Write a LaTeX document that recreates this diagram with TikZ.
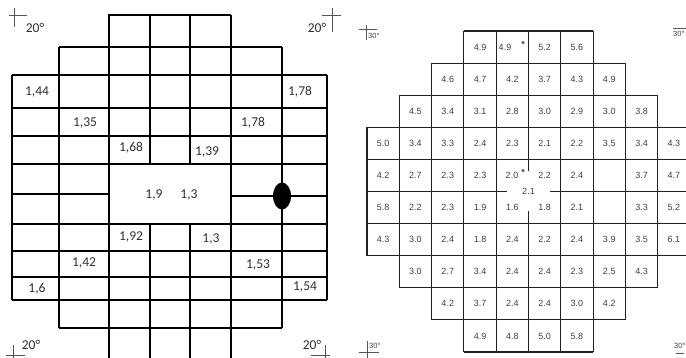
\documentclass[tikz,border=0pt]{standalone}
\usepackage{fontspec}
\setmainfont{Carlito}
\newfontfamily\rfont{Liberation Sans}
\definecolor{ltxt}{HTML}{303030}
\definecolor{rtxt}{HTML}{404040}
\definecolor{rline}{HTML}{222222}
\definecolor{mkc}{HTML}{555555}
\begin{document}
\begin{tikzpicture}[x=1pt,y=-1pt,
  lline/.style={line width=1.3pt, black},
  rl/.style={line width=1.1pt, rline},
  lt/.style={font=\fontsize{13.5}{14}\selectfont, text=ltxt, inner sep=0pt},
  rt/.style={font=\rfont\fontsize{9}{9}\selectfont, text=rtxt, inner sep=0pt},
  rs/.style={font=\rfont\fontsize{7.5}{8}\selectfont, text=rtxt, inner sep=0pt},
  mk/.style={line width=0.6pt, mkc}]
\useasboundingbox (0,0) rectangle (686,358);
\fill[white] (0,0) rectangle (686,358);

% ---------------- left grid ----------------
\draw[lline] (108,15) -- (231,15);
\draw[lline] (59,47) -- (282,47);
\foreach \y in {75,108,136,164,224,251,277,300} \draw[lline] (12,\y) -- (327,\y);
\draw[lline] (12,194) -- (109,194);
\draw[lline] (231,196) -- (327,196);
\draw[lline] (59,328) -- (282,328);
\draw[lline] (12,75) -- (12,300);
\draw[lline] (59,47) -- (59,328);
\draw[lline] (109,15) -- (109,358);
\draw[lline] (150,15) -- (150,164);
\draw[lline] (150,224) -- (150,358);
\draw[lline] (190,15) -- (190,164);
\draw[lline] (190,224) -- (190,358);
\draw[lline] (231,15) -- (231,358);
\draw[lline] (282,47) -- (282,328);
\draw[lline] (327,75) -- (327,300);
\fill[black] (282,196) ellipse [x radius=9, y radius=13.5];

\node[lt] (a1) at (37,92) {1,44};
\node[lt] (a2) at (300,92) {1,78};
\node[lt] (a3) at (85,123) {1,35};
\node[lt] (a4) at (253,123) {1,78};
\node[lt] (a5) at (131,148) {1,68};
\node[lt] (a6) at (207,152) {1,39};
\node[lt] (a7) at (154,195) {1,9};
\node[lt] (a8) at (189,195) {1,3};
\node[lt] (a9) at (131,237) {1,92};
\node[lt] (a10) at (211,239) {1,3};
\node[lt] (a11) at (84,263) {1,42};
\node[lt] (a12) at (258,265) {1,53};
\node[lt] (a13) at (37,289) {1,6};
\node[lt] (a14) at (305,287) {1,54};

% left corner marks
\draw[mk] (14,8) -- (14,27);
\draw[mk] (9,15) -- (27,15);
\node[lt] (c1) at (35,28) {20°};
\draw[mk] (332,8) -- (332,32);
\draw[mk] (322,15) -- (341,15);
\node[lt] (c2) at (317,28) {20°};
\draw[mk] (13,345) -- (13,358);
\draw[mk] (6,355) -- (25,355);
\node[lt] (c3) at (31,345) {20°};
\draw[mk] (325,345) -- (325,358);
\draw[mk] (311,355) -- (330,355);
\node[lt] (c4) at (312,345) {20°};

% ---------------- right grid ----------------
\foreach \k/\a/\b in {0/3/7,1/2/8,2/1/9,3/0/10,4/0/10,6/0/10,7/0/10,8/1/9,9/2/8,10/3/7}
  \draw[rl] ({367+32.3*\a},{31+32.1*\k}) -- ({367+32.3*\b},{31+32.1*\k});
\draw[rl] (367,191.5) -- (507,191.5);
\draw[rl] (550,191.5) -- (690,191.5);
\foreach \i/\a/\b in {0/3/7,1/2/8,2/1/9,3/0/10,4/0/10,6/0/10,7/0/10,8/1/9,9/2/8,10/3/7}
  \draw[rl] ({367+32.3*\i},{31+32.1*\a}) -- ({367+32.3*\i},{31+32.1*\b});
\draw[rl] (528.5,31) -- (528.5,171);
\draw[rl] (528.5,211) -- (528.5,352);

\foreach \v [count=\c from 3] in {4.9,{},5.2,5.6}
  \node[rt] (r0c\c) at ({367+32.3*(\c+0.5)},{31+32.1*0.5}) {\v};
\foreach \v [count=\c from 2] in {4.6,4.7,4.2,3.7,4.3,4.9}
  \node[rt] (r1c\c) at ({367+32.3*(\c+0.5)},{31+32.1*1.5}) {\v};
\foreach \v [count=\c from 1] in {4.5,3.4,3.1,2.8,3.0,2.9,3.0,3.8}
  \node[rt] (r2c\c) at ({367+32.3*(\c+0.5)},{31+32.1*2.5}) {\v};
\foreach \v [count=\c from 0] in {5.0,3.4,3.3,2.4,2.3,2.1,2.2,3.5,3.4,4.3}
  \node[rt] (r3c\c) at ({367+32.3*(\c+0.5)},{31+32.1*3.5}) {\v};
\foreach \v [count=\c from 0] in {4.2,2.7,2.3,2.3,{},2.2,2.4,{},3.7,4.7}
  \node[rt] (r4c\c) at ({367+32.3*(\c+0.5)},{31+32.1*4.5}) {\v};
\foreach \v [count=\c from 0] in {5.8,2.2,2.3,1.9,1.6,1.8,2.1,{},3.3,5.2}
  \node[rt] (r5c\c) at ({367+32.3*(\c+0.5)},{31+32.1*5.5}) {\v};
\foreach \v [count=\c from 0] in {4.3,3.0,2.4,1.8,2.4,2.2,2.4,3.9,3.5,6.1}
  \node[rt] (r6c\c) at ({367+32.3*(\c+0.5)},{31+32.1*6.5}) {\v};
\foreach \v [count=\c from 1] in {3.0,2.7,3.4,2.4,2.4,2.3,2.5,4.3}
  \node[rt] (r7c\c) at ({367+32.3*(\c+0.5)},{31+32.1*7.5}) {\v};
\foreach \v [count=\c from 2] in {4.2,3.7,2.4,2.4,3.0,4.2}
  \node[rt] (r8c\c) at ({367+32.3*(\c+0.5)},{31+32.1*8.5}) {\v};
\foreach \v [count=\c from 3] in {4.9,4.8,5.0,5.8}
  \node[rt] (r9c\c) at ({367+32.3*(\c+0.5)},{31+32.1*9.5}) {\v};

\node[rt] (st1) at (505,47) {4.9};
\node[rt, font=\rfont\bfseries\fontsize{9}{9}\selectfont] (st1s) at (523,44) {*};
\node[rt] (st2) at (512,175) {2.0};
\node[rt, font=\rfont\bfseries\fontsize{9}{9}\selectfont] (st2s) at (523,172) {*};
\node[rt] (bs) at (528.5,191.5) {2.1};

% right corner marks
\draw[mk] (366,25) -- (366,40);
\draw[mk] (359,29) -- (377,29);
\node[rs, anchor=west] (d1) at (368,36) {30°};
\draw[mk] (673,28.5) -- (686,28.5);
\node[rs, anchor=west] (d2) at (673,34) {30°};
\draw[mk] (367,341) -- (367,358);
\draw[mk] (359,352) -- (379,352);
\node[rs, anchor=west] (d3) at (369,346) {30°};
\draw[mk] (676,353) -- (684,353);
\node[rs, anchor=west] (d4) at (674,346) {30°};
\end{tikzpicture}
\end{document}
